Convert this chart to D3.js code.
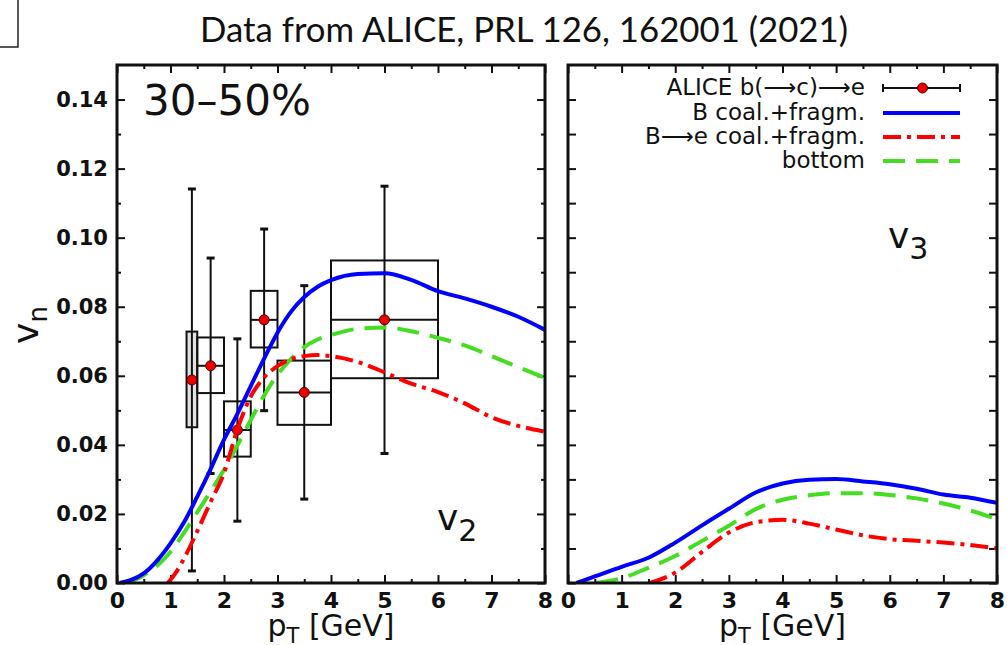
<!DOCTYPE html>
<html>
<head>
<meta charset="utf-8">
<script src="https://cdn.jsdelivr.net/npm/d3@7"></script>
<style>
  body { margin: 0; background: #fff; }
  text { fill: #111; }
</style>
</head>
<body>
<svg id="chart" width="1007" height="645"></svg>
<script>
// ALICE b(->c)->e points, 30-50%
const binCenter = [1.4, 1.75, 2.25, 2.75, 3.5, 5.0];
const binLo     = [1.3, 1.5, 2.0, 2.5, 3.0, 4.0];
const binHi     = [1.5, 2.0, 2.5, 3.0, 4.0, 6.0];
const v2Data    = [0.0588, 0.0629, 0.0443, 0.0762, 0.0552, 0.0762];
const statErr   = [0.0553, 0.0312, 0.0264, 0.0263, 0.0309, 0.0387];
const sysLow    = [0.0451, 0.0550, 0.0366, 0.0682, 0.0458, 0.0593];
const sysHigh   = [0.0728, 0.0711, 0.0526, 0.0846, 0.0644, 0.0934];

// model curves [pT, v_n]
const v2Bcoal = [[0.05,0],[0.25,0.0008],[0.5,0.0028],[0.75,0.0065],[1.0,0.0115],[1.25,0.0175],[1.5,0.025],
  [1.75,0.033],[2.0,0.0415],[2.25,0.049],[2.5,0.057],[2.75,0.065],[3.0,0.0725],[3.25,0.0785],[3.5,0.0828],
  [3.75,0.0858],[4.0,0.0877],[4.5,0.0895],[5.0,0.0897],[5.5,0.0878],[6.0,0.0845],[6.5,0.0824],[7.0,0.08],
  [7.5,0.0771],[8.0,0.0733]];
const v2Be = [[0.95,0],[1.1,0.003],[1.3,0.0085],[1.5,0.015],[1.75,0.0235],[2.0,0.0318],[2.25,0.0445],[2.5,0.054],
  [2.75,0.0595],[3.0,0.0628],[3.25,0.0648],[3.5,0.0657],[3.75,0.066],[4.0,0.0657],[4.5,0.064],[5.0,0.061],
  [5.5,0.0577],[6.0,0.0553],[6.5,0.052],[7.0,0.048],[7.5,0.0455],[8.0,0.0438]];
const v2Bottom = [[0.2,0],[0.5,0.0022],[0.75,0.005],[1.0,0.009],[1.25,0.0145],[1.5,0.0205],[1.75,0.0265],
  [2.0,0.0328],[2.25,0.0398],[2.5,0.0472],[2.75,0.0543],[3.0,0.0603],[3.25,0.0648],[3.5,0.0683],[3.75,0.0705],
  [4.0,0.0718],[4.5,0.0736],[5.0,0.074],[5.5,0.0729],[6.0,0.071],[6.5,0.0688],[7.0,0.0657],[7.5,0.0625],[8.0,0.0594]];

const v3Bcoal = [[0.16,0],[0.5,0.0019],[1.0,0.0047],[1.5,0.0073],[2.0,0.0117],[2.5,0.0167],[3.0,0.0215],
  [3.5,0.0262],[4.0,0.0288],[4.5,0.0299],[5.0,0.0301],[5.5,0.0294],[6.0,0.0286],[6.5,0.0273],[7.0,0.0256],
  [7.5,0.0247],[8.0,0.0232]];
const v3Be = [[1.53,0],[2.0,0.003],[2.5,0.009],[3.0,0.0146],[3.5,0.0176],[4.0,0.0183],[4.5,0.0172],[5.0,0.0155],
  [5.5,0.0138],[6.0,0.0127],[6.5,0.0122],[7.0,0.0117],[7.5,0.011],[8.0,0.01]];
const v3Bottom = [[0.53,0],[1.0,0.0014],[1.5,0.0044],[2.0,0.0078],[2.5,0.0122],[3.0,0.0166],[3.5,0.0214],
  [4.0,0.0241],[4.5,0.0254],[5.0,0.026],[5.5,0.026],[6.0,0.0255],[6.5,0.0245],[7.0,0.023],[7.5,0.021],[8.0,0.0185]];

const xTicks = [0, 1, 2, 3, 4, 5, 6, 7, 8];
const yTicks = [0, 0.02, 0.04, 0.06, 0.08, 0.10, 0.12, 0.14];

const legendLabels = ["ALICE b(\u27F6c)\u27F6e", "B coal.+fragm.", "B\u27F6e coal.+fragm.", "bottom"];

const styles = {
  bcoal:  { color: "#0000ff", dash: null },
  be:     { color: "#ff0000", dash: "18,6,4,6" },
  bottom: { color: "#44dd22", dash: "22,11" }
};

const svg = d3.select("#chart");
const font = "'DejaVu Sans', sans-serif";

const y = d3.scaleLinear().domain([0, 0.15]).range([583, 65]);
const xL = d3.scaleLinear().domain([0, 8]).range([117, 545]);
const xR = d3.scaleLinear().domain([0, 8]).range([568, 997]);

// title + stray box corner
svg.append("path").attr("d", "M0,47H18V0").attr("fill", "none").attr("stroke", "#222").attr("stroke-width", 1.5);
svg.append("text")
  .attr("x", 200).attr("y", 42)
  .attr("textLength", 648).attr("lengthAdjust", "spacingAndGlyphs")
  .style("font-family", "Lato, 'Liberation Sans', sans-serif")
  .style("font-size", "34px")
  .text("Data from ALICE, PRL 126, 162001 (2021)");

function panel(x, id, showYLabels, minorY) {
  const g = svg.append("g");
  const [x0, x1] = x.range();
  g.append("clipPath").attr("id", id).append("rect")
    .attr("x", x0).attr("y", 65).attr("width", x1 - x0).attr("height", 583 - 65);

  const minorX = d3.range(0.5, 8, 1);
  const minorYv = d3.range(0.01, 0.15, 0.02);

  // bottom
  g.append("g").attr("transform", "translate(0,583)")
    .call(d3.axisBottom(x).tickValues(xTicks).tickSizeInner(-8).tickSizeOuter(0).tickPadding(9).tickFormat(d3.format("d")));
  g.append("g").attr("transform", "translate(0,583)")
    .call(d3.axisBottom(x).tickValues(minorX).tickSizeInner(-4).tickSizeOuter(0).tickFormat(""));
  // top
  g.append("g").attr("transform", "translate(0,65)")
    .call(d3.axisTop(x).tickValues(xTicks).tickSizeInner(-8).tickSizeOuter(0).tickFormat(""));
  g.append("g").attr("transform", "translate(0,65)")
    .call(d3.axisTop(x).tickValues(minorX).tickSizeInner(-4).tickSizeOuter(0).tickFormat(""));
  // left / right
  const left = g.append("g").attr("transform", `translate(${x0},0)`)
    .call(d3.axisLeft(y).tickValues(yTicks).tickSizeInner(-8).tickSizeOuter(0).tickPadding(9)
      .tickFormat(showYLabels ? d3.format(".2f") : ""));
  g.append("g").attr("transform", `translate(${x0},0)`)
    .call(d3.axisLeft(y).tickValues(minorYv).tickSizeInner(-minorY).tickSizeOuter(0).tickFormat(""));
  g.append("g").attr("transform", `translate(${x1},0)`)
    .call(d3.axisRight(y).tickValues(yTicks).tickSizeInner(-8).tickSizeOuter(0).tickFormat(""));
  g.append("g").attr("transform", `translate(${x1},0)`)
    .call(d3.axisRight(y).tickValues(minorYv).tickSizeInner(-minorY).tickSizeOuter(0).tickFormat(""));

  g.selectAll(".domain").remove();
  g.selectAll(".tick line").attr("stroke", "#111").attr("stroke-width", 2);
  g.selectAll(".tick text")
    .style("font-family", font).style("font-weight", "bold").style("font-size", "22px").attr("fill", "#111");
  left.selectAll(".tick text").style("font-size", "21px");

  // axis title
  const t = g.append("text")
    .attr("x", (x0 + x1) / 2).attr("y", 636).attr("text-anchor", "middle")
    .style("font-family", font).style("font-size", "30px");
  t.append("tspan").text("p");
  t.append("tspan").attr("dy", 7).style("font-size", "21px").text("T");
  t.append("tspan").attr("dy", -7).text(" [GeV]");

  return g;
}

const gL = panel(xL, "clipL", true, 4);
const gR = panel(xR, "clipR", false, 8);

// ALICE data: systematic boxes, stat bars, points
const pts = d3.range(binCenter.length);
const dataG = gL.append("g").attr("stroke", "#111").attr("stroke-width", 2);
dataG.selectAll("rect.sys").data(pts).join("rect")
  .attr("x", i => xL(binLo[i])).attr("width", i => xL(binHi[i]) - xL(binLo[i]))
  .attr("y", i => y(sysHigh[i])).attr("height", i => y(sysLow[i]) - y(sysHigh[i]))
  .attr("fill", (d, i) => i === 0 ? "#e2e2e2" : "none");
dataG.selectAll("line.xerr").data(pts).join("line")
  .attr("x1", i => xL(binLo[i])).attr("x2", i => xL(binHi[i]))
  .attr("y1", i => y(v2Data[i])).attr("y2", i => y(v2Data[i]));
dataG.selectAll("line.yerr").data(pts).join("line")
  .attr("x1", i => xL(binCenter[i])).attr("x2", i => xL(binCenter[i]))
  .attr("y1", i => y(v2Data[i] + statErr[i])).attr("y2", i => y(v2Data[i] - statErr[i]));
dataG.selectAll("g.cap").data(pts).join("g").each(function(i) {
  const c = d3.select(this);
  [v2Data[i] + statErr[i], v2Data[i] - statErr[i]].forEach(v => {
    c.append("line").attr("x1", xL(binCenter[i]) - 4).attr("x2", xL(binCenter[i]) + 4)
      .attr("y1", y(v)).attr("y2", y(v)).attr("stroke-width", 3);
  });
});
gL.selectAll("circle.pt").data(pts).join("circle")
  .attr("cx", i => xL(binCenter[i])).attr("cy", i => y(v2Data[i])).attr("r", 5)
  .attr("fill", "#ee0000").attr("stroke", "#400").attr("stroke-width", 1);

// model curves
function curve(g, x, data, st, clip) {
  const line = d3.line().x(d => x(d[0])).y(d => y(d[1])).curve(d3.curveMonotoneX);
  g.append("path").datum(data)
    .attr("clip-path", `url(#${clip})`)
    .attr("d", line).attr("fill", "none")
    .attr("stroke", st.color).attr("stroke-width", 4)
    .attr("stroke-dasharray", st.dash);
}
curve(gL, xL, v2Bottom, styles.bottom, "clipL");
curve(gL, xL, v2Be, styles.be, "clipL");
curve(gL, xL, v2Bcoal, styles.bcoal, "clipL");
curve(gR, xR, v3Bottom, styles.bottom, "clipR");
curve(gR, xR, v3Be, styles.be, "clipR");
curve(gR, xR, v3Bcoal, styles.bcoal, "clipR");

// frames
[xL, xR].forEach(x => {
  svg.append("rect").attr("x", x.range()[0]).attr("y", 65)
    .attr("width", x.range()[1] - x.range()[0]).attr("height", 583 - 65)
    .attr("fill", "none").attr("stroke", "#111").attr("stroke-width", 3);
});

// y axis title v_n
const vn = svg.append("text").attr("transform", "translate(38,325) rotate(-90)")
  .attr("text-anchor", "middle").style("font-family", font).style("font-size", "36px");
vn.append("tspan").text("v");
vn.append("tspan").attr("dy", 9).style("font-size", "26px").text("n");

// in-panel labels
svg.append("text").attr("x", 143).attr("y", 115)
  .style("font-family", font).style("font-size", "42px").text("30\u201350%");

function vLabel(xp, yp, sub) {
  const t = svg.append("text").attr("x", xp).attr("y", yp)
    .style("font-family", font).style("font-size", "36px");
  t.append("tspan").text("v");
  t.append("tspan").attr("dy", 11).style("font-size", "30px").text(sub);
}
vLabel(437, 530, "2");
vLabel(888, 248, "3");

// legend
const legX0 = 883, legX1 = 960, legTextX = 865;
const legRows = [95, 120, 144, 168];
legendLabels.forEach((lab, i) => {
  svg.append("text").attr("x", legTextX).attr("y", legRows[i]).attr("text-anchor", "end")
    .style("font-family", font).style("font-size", "23px").text(lab);
});
const ly0 = legRows[0] - 7;
const errLeg = svg.append("g").attr("stroke", "#111").attr("stroke-width", 2);
errLeg.append("line").attr("x1", legX0).attr("x2", legX1).attr("y1", ly0).attr("y2", ly0);
[legX0, legX1].forEach(xx => errLeg.append("line").attr("x1", xx).attr("x2", xx).attr("y1", ly0 - 4).attr("y2", ly0 + 4));
svg.append("circle").attr("cx", (legX0 + legX1) / 2 + 1).attr("cy", ly0).attr("r", 5)
  .attr("fill", "#ee0000").attr("stroke", "#400").attr("stroke-width", 1);
[styles.bcoal, styles.be, styles.bottom].forEach((st, i) => {
  const yy = legRows[i + 1] - 7;
  svg.append("line").attr("x1", legX0).attr("x2", legX1).attr("y1", yy).attr("y2", yy)
    .attr("stroke", st.color).attr("stroke-width", 4).attr("stroke-dasharray", st.dash);
});
</script>
</body>
</html>
